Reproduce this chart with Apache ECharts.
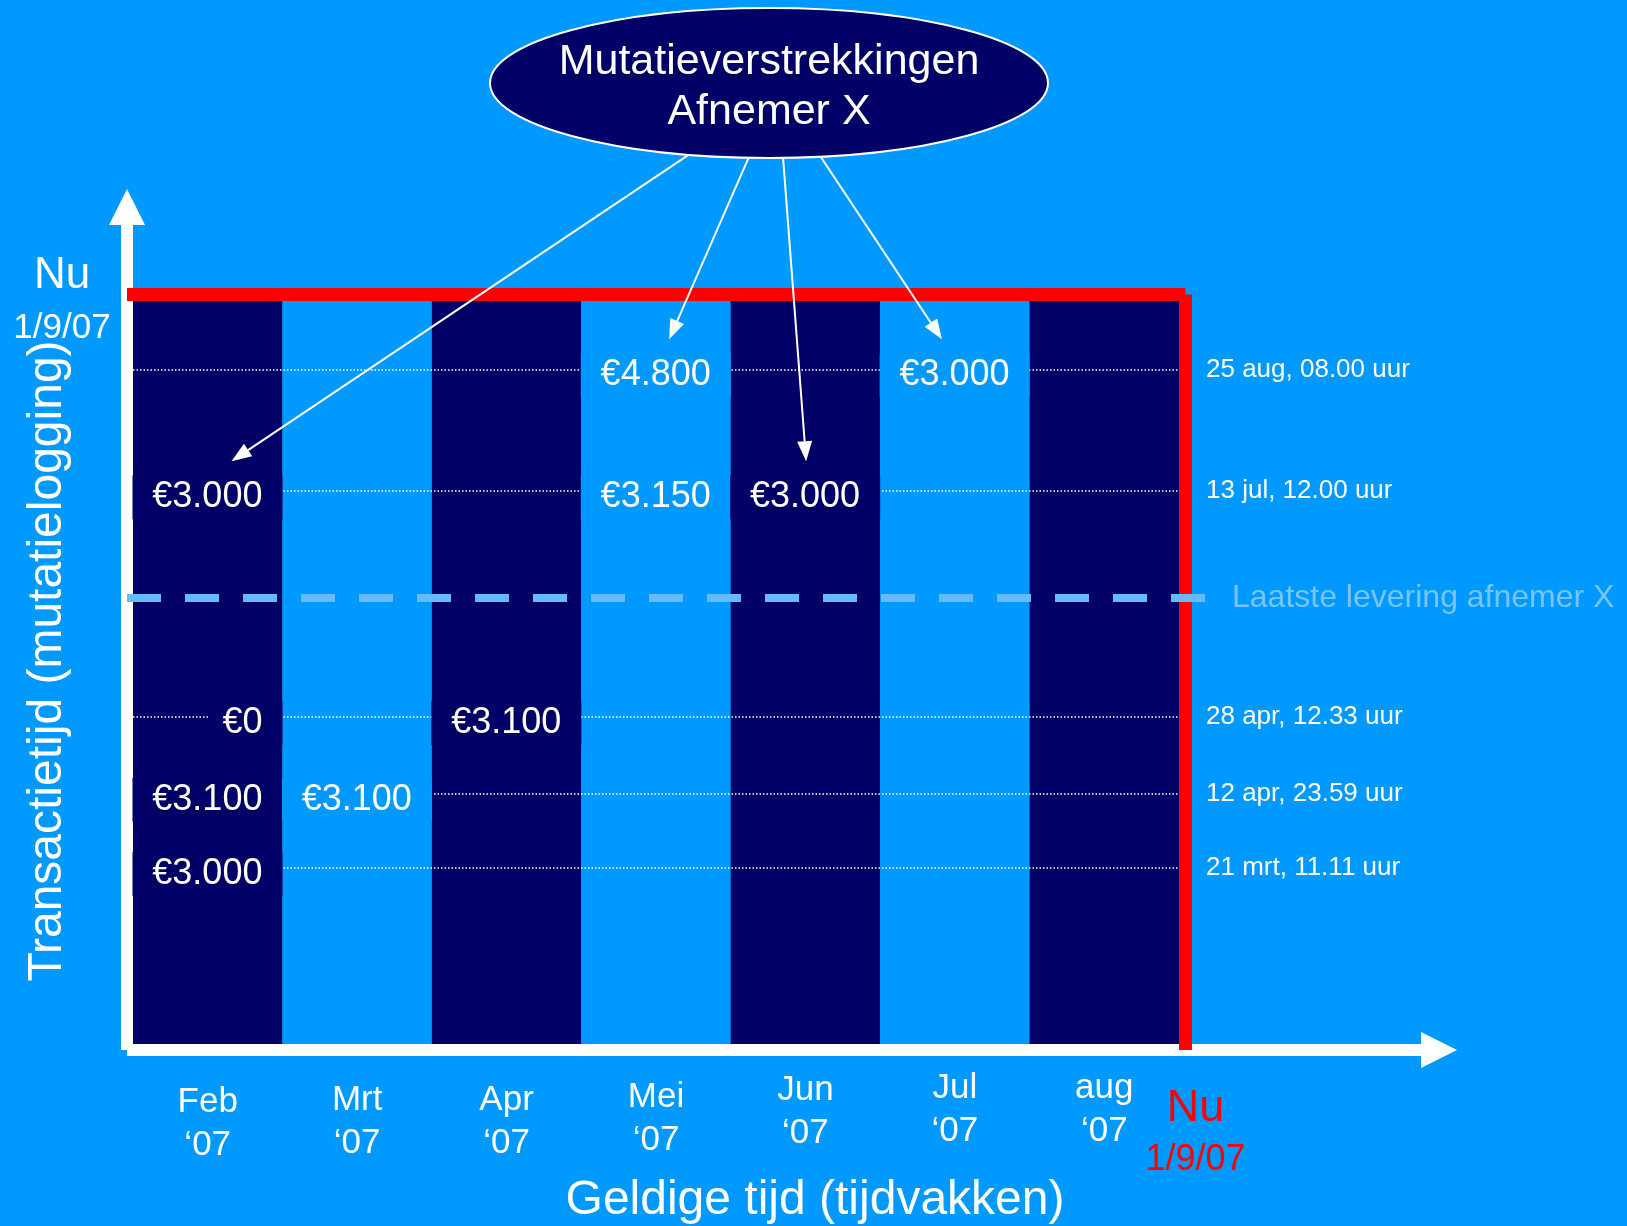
<!DOCTYPE html>
<html>
<head>
<meta charset="utf-8">
<title>Mutatieverstrekkingen afnemer X</title>
<script src="https://cdn.jsdelivr.net/npm/echarts@6/dist/echarts.min.js"></script>
<style>
  html, body { margin: 0; padding: 0; background: #0099ff; }
  #chart { width: 1627px; height: 1226px; }
</style>
</head>
<body>
<div id="chart"></div>
<script>
// data
var months = ['Feb', 'Mrt', 'Apr', 'Mei', 'Jun', 'Jul', 'aug'];
var monthYear = '‘07';
var txTimes = ['21 mrt, 11.11 uur', '12 apr, 23.59 uur', '28 apr, 12.33 uur', '13 jul, 12.00 uur', '25 aug, 08.00 uur'];
var txLevels = [2.37, 3.37, 4.40, 7.44, 9.08];   // transactietijd, 10 = nu
var nuLevel = 10;
var nuText = ['Nu', '1/9/07'];
var lastDeliveryLevel = 6.0;
var lastDeliveryText = 'Laatste levering afnemer X';
// bedragen per transactietijd (rij) en tijdvak (kolom)
var amounts = [
  [3000, null, null, null, null, null, null],
  [3100, 3100, null, null, null, null, null],
  [0, null, 3100, null, null, null, null],
  [3000, null, null, 3150, 3000, null, null],
  [null, null, null, 4800, null, 3000, null]
];
var extractTitle = ['Mutatieverstrekkingen', 'Afnemer X'];
var extractCells = [[0, 3], [3, 4], [4, 3], [5, 4]];  // [tijdvak, rij]

// layout
var NAVY = '#000066', BLUE = '#0099ff', RED = '#ff0000', PALE = '#66bbff';
var FONT = '"Liberation Sans", Arial, sans-serif';
var CELL_FONT = 36;
var inner = {left: 133, right: 1179, top: 301, bottom: 1044};
var outer = {left: 127, right: 1439, top: 207, bottom: 1050};
var labelDrop = [14, 12, 12, 9, 2, 0, 0];
var pxMonth = (inner.right - inner.left) / months.length;
var pxLevel = (inner.bottom - inner.top) / nuLevel;
function xUnits(px) { return (px - inner.left) / pxMonth; }
function yUnits(py) { return (inner.bottom - py) / pxLevel; }
var oxMin = xUnits(outer.left), oxMax = xUnits(outer.right);
var oyMin = yUnits(outer.bottom), oyMax = yUnits(outer.top);
var nuX = months.length + 6.5 / pxMonth;
var nuY = nuLevel + 6.5 / pxLevel;

function euro(v) {
  return '€' + String(v).replace(/\B(?=(\d{3})+(?!\d))/g, '.');
}
function colColor(i) { return i % 2 ? BLUE : NAVY; }

// label-achtergrond dekt de stippellijn af; brede bedragen vullen de hele cel
var measureCtx = document.createElement('canvas').getContext('2d');
measureCtx.font = CELL_FONT + 'px ' + FONT;
function cellPadLeft(text) {
  var w = measureCtx.measureText(text).width;
  var rest = pxMonth - 20 - w;
  return rest - 14 < 24 ? Math.max(rest + 0.5, 0) : 14;
}

var cellData = [];
amounts.forEach(function (row, r) {
  row.forEach(function (v, i) {
    if (v === null) return;
    cellData.push({
      value: [i, txLevels[r], v],
      label: {backgroundColor: colColor(i), padding: [4, 20, 4, cellPadLeft(euro(v))]}
    });
  });
});

var chart = echarts.init(document.getElementById('chart'));

var option = {
  backgroundColor: BLUE,
  animation: false,
  textStyle: {fontFamily: FONT},
  grid: [
    {left: inner.left, top: inner.top, width: inner.right - inner.left, height: inner.bottom - inner.top, outerBoundsMode: 'none'},
    {left: outer.left, top: outer.top, width: outer.right - outer.left, height: outer.bottom - outer.top, outerBoundsMode: 'none'}
  ],
  xAxis: [
    {
      gridIndex: 0, type: 'category',
      data: months.map(function (m, i) {
        return {value: m + '\n' + monthYear, textStyle: {padding: [labelDrop[i], 0, 0, 0]}};
      }),
      axisLine: {show: false}, axisTick: {show: false}, splitLine: {show: false},
      axisLabel: {interval: 0, margin: 23, color: '#fff', fontSize: 35, lineHeight: 43, fontFamily: FONT}
    },
    {
      gridIndex: 1, type: 'value', min: oxMin, max: oxMax,
      axisLine: {show: true, onZero: false, symbol: ['none', 'triangle'], symbolSize: [36, 36],
        lineStyle: {color: '#fff', width: 12, cap: 'butt'}},
      axisTick: {show: false}, axisLabel: {show: false}, splitLine: {show: false},
      name: 'Geldige tijd (tijdvakken)', nameLocation: 'middle', nameGap: 125,
      nameTextStyle: {color: '#fff', fontSize: 48, lineHeight: 52, padding: [0, 0, 0, 64], fontFamily: FONT}
    }
  ],
  yAxis: [
    {
      gridIndex: 0, type: 'value', min: 0, max: nuLevel,
      axisLine: {show: false}, axisTick: {show: false}, axisLabel: {show: false}, splitLine: {show: false},
      name: 'Transactietijd (mutatielogging)', nameLocation: 'middle', nameRotate: 90, nameGap: 59,
      nameTextStyle: {color: '#fff', fontSize: 48, lineHeight: 52, padding: [0, 0, 0, 23], fontFamily: FONT}
    },
    {
      gridIndex: 1, type: 'value', min: oyMin, max: oyMax,
      axisLine: {show: true, onZero: false, symbol: ['none', 'triangle'], symbolSize: [36, 36],
        lineStyle: {color: '#fff', width: 12, cap: 'butt'}},
      axisTick: {show: false}, axisLabel: {show: false}, splitLine: {show: false}
    }
  ],
  series: [
    {
      type: 'bar', xAxisIndex: 0, yAxisIndex: 0, silent: true,
      barCategoryGap: 0,
      data: months.map(function (m, i) {
        return {value: nuLevel, itemStyle: {color: colColor(i)}};
      }),
      markLine: {
        z: 3, silent: true, symbol: ['none', 'none'],
        lineStyle: {color: '#fff', width: 1.5, type: [1.5, 2]},
        label: {show: true, position: 'end', distance: 27, color: '#fff', fontSize: 26,
          fontFamily: FONT, padding: [14, 0, 0, 0], formatter: '{b}'},
        data: txLevels.map(function (lv, r) { return {yAxis: lv, name: txTimes[r]}; })
      }
    },
    {
      type: 'scatter', xAxisIndex: 0, yAxisIndex: 0, z: 10, silent: true,
      symbolSize: 1, itemStyle: {color: 'rgba(0,0,0,0)', opacity: 1},
      label: {
        show: true, position: 'inside', offset: [pxMonth / 2, 6],
        align: 'right', verticalAlign: 'middle',
        color: '#fff', fontSize: CELL_FONT, fontFamily: FONT,
        textBorderWidth: 0,
        formatter: function (p) { return euro(p.value[2]); }
      },
      data: cellData
    },
    {
      type: 'line', xAxisIndex: 1, yAxisIndex: 1, silent: true, data: [],
      markLine: {
        z: 5, silent: true, symbol: ['none', 'none'],
        label: {show: false},
        data: [
          [
            {coord: [oxMin, nuY], lineStyle: {color: RED, width: 13, type: 'solid', cap: 'butt'},
              label: {show: true, position: 'start', distance: 15, padding: [10, 0, 0, 0],
                formatter: '{n|' + nuText[0] + '}\n{d|' + nuText[1] + '}',
                rich: {
                  n: {fontSize: 44, lineHeight: 58, width: 100, align: 'center', color: '#fff', fontFamily: FONT},
                  d: {fontSize: 35, lineHeight: 47, width: 100, align: 'center', color: '#fff', fontFamily: FONT}
                }}},
            {coord: [nuX, nuY]}
          ],
          [
            {coord: [nuX, nuY], lineStyle: {color: RED, width: 13, type: 'solid', cap: 'butt'},
              label: {show: true, position: 'end', distance: 34, padding: [0, 0, 0, 20],
                formatter: '{n|' + nuText[0] + '}\n{d|' + nuText[1] + '}',
                rich: {
                  n: {fontSize: 45, lineHeight: 50, color: RED, fontFamily: FONT},
                  d: {fontSize: 36, lineHeight: 52, color: RED, fontFamily: FONT}
                }}},
            {coord: [nuX, oyMin]}
          ],
          [
            {coord: [oxMin, lastDeliveryLevel], name: lastDeliveryText,
              lineStyle: {color: PALE, width: 8, type: [34, 24], cap: 'butt'},
              label: {show: true, position: 'end', distance: 23, formatter: '{b}',
                color: '#77c4ff', fontSize: 32, fontFamily: FONT}},
            {coord: [xUnits(1209), lastDeliveryLevel]}
          ]
        ]
      }
    }
  ]
};
chart.setOption(option);

// ellips met pijlen naar de verstrekte cellen
var ell = {cx: 769, cy: 83, rx: 279, ry: 75};
var arrowStartX = [690, 749, 783, 820];
var arrowAimDx = [-21, 0, 3, 7];
function onEllipse(x) {
  var t = (x - ell.cx) / ell.rx;
  return ell.cy + ell.ry * Math.sqrt(1 - t * t) - 1;
}
var graphics = [
  {type: 'ellipse', z: 100, shape: ell, style: {fill: NAVY, stroke: '#fff', lineWidth: 2}},
  {type: 'text', z: 101, x: ell.cx, y: ell.cy + 4,
    style: {text: extractTitle.join('\n'), fill: '#fff', fontSize: 43, fontFamily: FONT,
      lineHeight: 50, align: 'center', verticalAlign: 'middle'}}
];
extractCells.forEach(function (c, k) {
  var target = chart.convertToPixel({gridIndex: 0}, [c[0], txLevels[c[1]]]);
  var ax = target[0] + arrowAimDx[k], ay = target[1];
  var sx = arrowStartX[k], sy = onEllipse(sx);
  var tipY = ay - 30;
  var t = (tipY - sy) / (ay - sy);
  var tipX = sx + (ax - sx) * t;
  var dx = tipX - sx, dy = tipY - sy, len = Math.sqrt(dx * dx + dy * dy);
  var ux = dx / len, uy = dy / len;
  var bx = tipX - ux * 20, by = tipY - uy * 20;
  graphics.push({type: 'line', z: 99, shape: {x1: sx, y1: sy, x2: bx, y2: by},
    style: {stroke: '#fff', lineWidth: 2}});
  graphics.push({type: 'polygon', z: 99,
    shape: {points: [[tipX, tipY], [bx - uy * 7.5, by + ux * 7.5], [bx + uy * 7.5, by - ux * 7.5]]},
    style: {fill: '#fff'}});
});
chart.setOption({graphic: graphics});
</script>
</body>
</html>
